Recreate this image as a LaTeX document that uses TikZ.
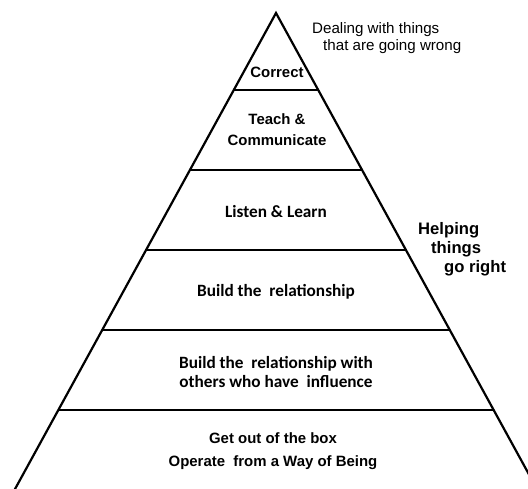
\documentclass[tikz,border=0pt]{standalone}
\usepackage{fontspec}
\setmainfont{Liberation Sans}
\newfontfamily\calfont{Carlito}
\begin{document}
\begin{tikzpicture}[x=1bp,y=-1bp,
  edge/.style={line width=2.2bp, black},
  arial/.style={font=\fontsize{15}{18}\selectfont\bfseries, inner sep=0pt, align=center},
  calib/.style={font=\calfont\fontsize{17.3}{20}\selectfont\bfseries, inner sep=0pt, align=center},
  note/.style={font=\fontsize{15.2}{17}\selectfont, inner sep=0pt, anchor=west},
  side/.style={font=\fontsize{16.7}{19}\selectfont\bfseries, inner sep=0pt, anchor=west}]
\useasboundingbox (0,0) rectangle (528,489);
\clip (0,0) rectangle (528,489);
% outline of the pyramid (sides run past the bottom edge)
\coordinate (apex) at (276,13);
\coordinate (bl) at (9,500);
\coordinate (br) at (543,500);
\draw[edge, line join=miter] (bl) -- (apex) -- (br);
% level dividers: x = 276 -/+ 0.548*(y-13)
\foreach \y in {90,170,250,330,410}{
  \pgfmathsetmacro{\hw}{0.548*(\y-13)}
  \draw[edge] ({276-\hw},\y) -- ({276+\hw},\y);
}
% level labels
\node[arial] (correct) at (277,72) {Correct};
\node[arial] (teach) at (277,130) {Teach \&\\[3pt]Communicate};
\node[calib] (listen) at (276,212) {Listen \& Learn};
\node[calib] (build) at (276,292) {Build the\ \ relationship};
\node[calib] (buildw) at (276,372) {Build the\ \ relationship with\\others who have\ \ influence};
\node[arial] (box) at (273,451) {Get out of the box\\[5pt]Operate\ \ from a Way of Being};
% side notes
\node[note] (deal1) at (312,30) {Dealing with things};
\node[note] (deal2) at (323,47) {that are going wrong};
\node[side] (help1) at (418,230) {Helping};
\node[side] (help2) at (431,249) {things};
\node[side] (help3) at (444,268) {go right};
\end{tikzpicture}
\end{document}
